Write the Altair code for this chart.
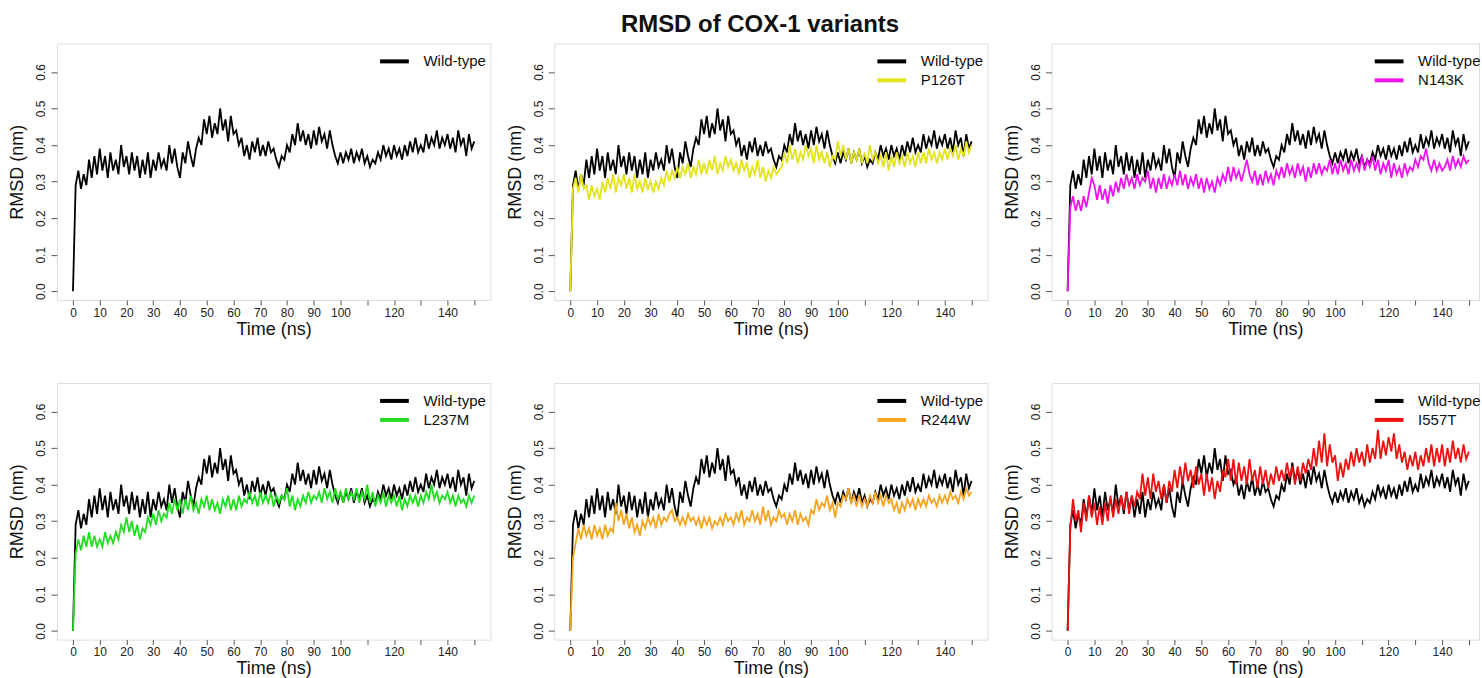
import altair as alt
import pandas as pd

TIME = list(range(151))

WILD_TYPE = [0.00,
    0.29, 0.33, 0.28, 0.32, 0.29, 0.36, 0.31, 0.37, 0.32, 0.39,
    0.33, 0.37, 0.31, 0.38, 0.33, 0.36, 0.32, 0.40, 0.34, 0.37,
    0.32, 0.38, 0.33, 0.37, 0.31, 0.36, 0.32, 0.38, 0.31, 0.36,
    0.33, 0.38, 0.34, 0.36, 0.33, 0.40, 0.35, 0.39, 0.34, 0.31,
    0.38, 0.35, 0.41, 0.37, 0.34, 0.39, 0.42, 0.40, 0.47, 0.43,
    0.48, 0.42, 0.46, 0.43, 0.50, 0.44, 0.47, 0.41, 0.48, 0.43,
    0.44, 0.40, 0.42, 0.37, 0.40, 0.36, 0.41, 0.38, 0.42, 0.37,
    0.40, 0.37, 0.41, 0.38, 0.39, 0.36, 0.34, 0.37, 0.36, 0.40,
    0.38, 0.43, 0.40, 0.46, 0.41, 0.44, 0.40, 0.43, 0.39, 0.44,
    0.40, 0.45, 0.41, 0.43, 0.39, 0.44, 0.40, 0.37, 0.35, 0.38,
    0.35, 0.38, 0.36, 0.39, 0.35, 0.38, 0.36, 0.39, 0.35, 0.37,
    0.34, 0.36, 0.35, 0.38, 0.36, 0.40, 0.37, 0.39, 0.36, 0.40,
    0.37, 0.39, 0.36, 0.40, 0.37, 0.41, 0.38, 0.42, 0.38, 0.40,
    0.38, 0.43, 0.39, 0.42, 0.40, 0.44, 0.39, 0.42, 0.40, 0.43,
    0.39, 0.42, 0.38, 0.44, 0.40, 0.42, 0.37, 0.43, 0.39, 0.41]

P126T = [0.00,
    0.28, 0.31, 0.27, 0.32, 0.28, 0.29, 0.25, 0.29, 0.26, 0.28,
    0.25, 0.30, 0.27, 0.31, 0.28, 0.32, 0.27, 0.31, 0.29, 0.32,
    0.28, 0.31, 0.27, 0.32, 0.28, 0.30, 0.27, 0.31, 0.28, 0.30,
    0.27, 0.30, 0.28, 0.31, 0.29, 0.33, 0.30, 0.33, 0.31, 0.34,
    0.31, 0.34, 0.32, 0.35, 0.31, 0.34, 0.32, 0.36, 0.32, 0.35,
    0.32, 0.36, 0.33, 0.37, 0.32, 0.35, 0.33, 0.37, 0.34, 0.36,
    0.33, 0.35, 0.32, 0.36, 0.33, 0.35, 0.31, 0.34, 0.32, 0.36,
    0.31, 0.34, 0.30, 0.33, 0.31, 0.34, 0.32, 0.33, 0.34, 0.38,
    0.35, 0.40, 0.36, 0.39, 0.35, 0.38, 0.36, 0.40, 0.37, 0.39,
    0.35, 0.40, 0.36, 0.38, 0.35, 0.38, 0.34, 0.37, 0.36, 0.41,
    0.37, 0.40, 0.36, 0.39, 0.35, 0.38, 0.36, 0.39, 0.35, 0.38,
    0.35, 0.40, 0.36, 0.38, 0.35, 0.37, 0.34, 0.38, 0.33, 0.37,
    0.34, 0.38, 0.35, 0.37, 0.34, 0.38, 0.35, 0.37, 0.34, 0.38,
    0.35, 0.38, 0.35, 0.39, 0.36, 0.38, 0.35, 0.38, 0.36, 0.39,
    0.36, 0.39, 0.37, 0.40, 0.36, 0.39, 0.37, 0.41, 0.38, 0.40]

N143K = [0.00,
    0.23, 0.26, 0.22, 0.25, 0.22, 0.26, 0.23, 0.27, 0.31, 0.29,
    0.25, 0.29, 0.25, 0.28, 0.24, 0.29, 0.26, 0.30, 0.27, 0.31,
    0.28, 0.32, 0.29, 0.31, 0.28, 0.32, 0.29, 0.31, 0.30, 0.33,
    0.28, 0.31, 0.27, 0.31, 0.28, 0.32, 0.28, 0.31, 0.29, 0.32,
    0.29, 0.33, 0.29, 0.32, 0.28, 0.31, 0.29, 0.32, 0.28, 0.31,
    0.27, 0.31, 0.28, 0.30, 0.27, 0.31, 0.29, 0.32, 0.30, 0.34,
    0.30, 0.34, 0.31, 0.33, 0.30, 0.33, 0.36, 0.32, 0.30, 0.33,
    0.29, 0.32, 0.29, 0.33, 0.30, 0.32, 0.29, 0.33, 0.31, 0.34,
    0.31, 0.35, 0.32, 0.34, 0.31, 0.35, 0.32, 0.34, 0.30, 0.34,
    0.31, 0.35, 0.32, 0.35, 0.32, 0.34, 0.33, 0.36, 0.32, 0.35,
    0.32, 0.36, 0.33, 0.35, 0.32, 0.36, 0.33, 0.35, 0.33, 0.37,
    0.33, 0.36, 0.34, 0.37, 0.33, 0.36, 0.32, 0.35, 0.33, 0.36,
    0.31, 0.35, 0.32, 0.34, 0.31, 0.35, 0.32, 0.34, 0.33, 0.36,
    0.34, 0.37, 0.36, 0.39, 0.35, 0.33, 0.36, 0.33, 0.35, 0.33,
    0.34, 0.36, 0.33, 0.37, 0.34, 0.36, 0.34, 0.37, 0.35, 0.36]

L237M = [0.00,
    0.21, 0.25, 0.22, 0.26, 0.23, 0.27, 0.23, 0.26, 0.23, 0.25,
    0.23, 0.27, 0.24, 0.26, 0.24, 0.27, 0.25, 0.29, 0.27, 0.31,
    0.27, 0.30, 0.26, 0.29, 0.25, 0.28, 0.27, 0.31, 0.29, 0.32,
    0.29, 0.33, 0.30, 0.32, 0.31, 0.35, 0.32, 0.36, 0.33, 0.36,
    0.32, 0.36, 0.33, 0.37, 0.33, 0.35, 0.32, 0.36, 0.34, 0.37,
    0.33, 0.36, 0.33, 0.35, 0.32, 0.36, 0.34, 0.37, 0.33, 0.36,
    0.33, 0.37, 0.34, 0.36, 0.35, 0.38, 0.35, 0.37, 0.34, 0.38,
    0.35, 0.37, 0.35, 0.38, 0.34, 0.37, 0.35, 0.37, 0.36, 0.39,
    0.34, 0.37, 0.33, 0.36, 0.34, 0.37, 0.35, 0.38, 0.35, 0.37,
    0.36, 0.38, 0.35, 0.39, 0.36, 0.38, 0.35, 0.39, 0.36, 0.38,
    0.35, 0.39, 0.36, 0.38, 0.36, 0.39, 0.35, 0.38, 0.36, 0.40,
    0.35, 0.38, 0.34, 0.37, 0.35, 0.38, 0.34, 0.37, 0.35, 0.37,
    0.34, 0.37, 0.33, 0.36, 0.34, 0.37, 0.35, 0.37, 0.34, 0.37,
    0.35, 0.38, 0.36, 0.40, 0.36, 0.38, 0.35, 0.37, 0.36, 0.38,
    0.35, 0.37, 0.34, 0.37, 0.35, 0.36, 0.34, 0.37, 0.35, 0.37]

R244W = [0.00,
    0.20, 0.24, 0.28, 0.25, 0.29, 0.26, 0.28, 0.25, 0.29, 0.26,
    0.28, 0.25, 0.29, 0.26, 0.28, 0.27, 0.35, 0.30, 0.33, 0.29,
    0.32, 0.28, 0.31, 0.27, 0.29, 0.26, 0.30, 0.28, 0.31, 0.29,
    0.31, 0.28, 0.32, 0.29, 0.31, 0.30, 0.32, 0.33, 0.30, 0.31,
    0.29, 0.31, 0.29, 0.32, 0.30, 0.31, 0.29, 0.31, 0.28, 0.31,
    0.29, 0.31, 0.28, 0.30, 0.29, 0.31, 0.29, 0.32, 0.30, 0.31,
    0.29, 0.32, 0.30, 0.33, 0.29, 0.31, 0.30, 0.33, 0.30, 0.32,
    0.29, 0.34, 0.30, 0.33, 0.29, 0.31, 0.30, 0.33, 0.31, 0.32,
    0.29, 0.32, 0.30, 0.33, 0.29, 0.32, 0.30, 0.31, 0.29, 0.33,
    0.32, 0.36, 0.33, 0.35, 0.34, 0.37, 0.33, 0.35, 0.31, 0.35,
    0.34, 0.37, 0.36, 0.39, 0.35, 0.37, 0.34, 0.37, 0.34, 0.36,
    0.34, 0.37, 0.35, 0.38, 0.35, 0.37, 0.34, 0.37, 0.35, 0.36,
    0.33, 0.35, 0.32, 0.35, 0.33, 0.36, 0.34, 0.36, 0.33, 0.36,
    0.34, 0.36, 0.34, 0.37, 0.35, 0.36, 0.34, 0.37, 0.35, 0.37,
    0.35, 0.38, 0.36, 0.37, 0.35, 0.38, 0.36, 0.39, 0.37, 0.38]

I557T = [0.00,
    0.28, 0.36, 0.30, 0.33, 0.27, 0.35, 0.30, 0.37, 0.31, 0.35,
    0.29, 0.34, 0.29, 0.35, 0.30, 0.37, 0.31, 0.36, 0.32, 0.37,
    0.33, 0.38, 0.32, 0.37, 0.34, 0.38, 0.36, 0.43, 0.37, 0.42,
    0.36, 0.43, 0.38, 0.41, 0.36, 0.40, 0.35, 0.41, 0.38, 0.44,
    0.39, 0.45, 0.40, 0.46, 0.41, 0.44, 0.39, 0.45, 0.40, 0.43,
    0.37, 0.43, 0.38, 0.42, 0.36, 0.41, 0.38, 0.44, 0.42, 0.47,
    0.41, 0.47, 0.40, 0.46, 0.41, 0.45, 0.40, 0.47, 0.41, 0.44,
    0.39, 0.45, 0.40, 0.44, 0.39, 0.43, 0.40, 0.45, 0.41, 0.44,
    0.41, 0.46, 0.42, 0.45, 0.40, 0.45, 0.41, 0.46, 0.43, 0.47,
    0.44, 0.50, 0.45, 0.52, 0.46, 0.54, 0.45, 0.51, 0.46, 0.48,
    0.41, 0.46, 0.42, 0.47, 0.44, 0.49, 0.45, 0.50, 0.46, 0.49,
    0.45, 0.51, 0.46, 0.50, 0.47, 0.55, 0.47, 0.52, 0.48, 0.53,
    0.49, 0.54, 0.47, 0.51, 0.46, 0.49, 0.44, 0.48, 0.45, 0.49,
    0.44, 0.48, 0.45, 0.50, 0.46, 0.51, 0.45, 0.50, 0.46, 0.51,
    0.45, 0.50, 0.46, 0.52, 0.47, 0.50, 0.46, 0.51, 0.47, 0.49]

VARIANTS = ["P126T", "N143K", "L237M", "R244W", "I557T"]
VARIANT_VALUES = [P126T, N143K, L237M, R244W, I557T]
VARIANT_COLORS = ["#e3e31c", "#ee14ee", "#22dd22", "#f5a520", "#ee1111"]

X_TICKS = list(range(0, 151, 10))
Y_TICKS = [0.0, 0.1, 0.2, 0.3, 0.4, 0.5, 0.6]

FONT = "Liberation Sans"
BOX = "#555555"


def frame(name, values):
    return pd.DataFrame({"time": TIME, "rmsd": values, "series": name})


def panel(variant, values, color, width, xmax):
    x = alt.X(
        "time:Q",
        scale=alt.Scale(domain=[-6, xmax], nice=False, zero=False),
        axis=alt.Axis(
            values=X_TICKS,
            title="Time (ns)",
            labelExpr="(datum.value == 110 || datum.value == 130 || datum.value == 150) ? '' : datum.label",
            grid=False, domain=False, tickSize=5, tickColor=BOX,
            labelFontSize=12, labelFont=FONT, labelColor="#222222",
            labelPadding=2, titleFontSize=18, titleFont=FONT,
            titleFontWeight="normal", titlePadding=2, titleColor="#111111",
        ),
    )
    y = alt.Y(
        "rmsd:Q",
        scale=alt.Scale(domain=[-0.024, 0.678], nice=False, zero=False),
        axis=alt.Axis(
            values=Y_TICKS, format=".1f", title="RMSD (nm)",
            grid=False, domain=False, tickSize=6, tickColor=BOX,
            labelAngle=270, labelAlign="center", labelBaseline="bottom",
            labelFontSize=12, labelFont=FONT, labelColor="#222222",
            labelPadding=3, titleFontSize=18, titleFont=FONT,
            titleFontWeight="normal", titlePadding=8, titleColor="#111111",
        ),
    )
    if variant is None:
        domain, rng = ["Wild-type"], ["#000000"]
    else:
        domain, rng = ["Wild-type", variant], ["#000000", color]
    col = alt.Color(
        "series:N",
        scale=alt.Scale(domain=domain, range=rng),
        legend=alt.Legend(
            title=None, orient="none", legendX=327, legendY=7, padding=0,
            symbolType="M-1.6,0H1.6", symbolSize=324, symbolStrokeWidth=4,
            labelFontSize=15, labelFont=FONT, labelColor="#111111",
            labelOffset=18, rowPadding=0, symbolOffset=0,
        ),
    )
    wt = alt.Chart(frame("Wild-type", WILD_TYPE)).mark_line(strokeWidth=1.8).encode(
        x=x, y=y, color=col
    )
    layers = [wt]
    if variant is not None:
        var = alt.Chart(frame(variant, values)).mark_line(strokeWidth=1.8).encode(
            x=x, y=y, color=col
        )
        layers.append(var)
    return alt.layer(*layers).properties(width=width, height=257)


panels = [
    panel(None, None, None, 434, 156),
    panel(VARIANTS[0], VARIANT_VALUES[0], VARIANT_COLORS[0], 434, 156),
    panel(VARIANTS[1], VARIANT_VALUES[1], VARIANT_COLORS[1], 428, 153.8),
    panel(VARIANTS[2], VARIANT_VALUES[2], VARIANT_COLORS[2], 434, 156),
    panel(VARIANTS[3], VARIANT_VALUES[3], VARIANT_COLORS[3], 434, 156),
    panel(VARIANTS[4], VARIANT_VALUES[4], VARIANT_COLORS[4], 428, 153.8),
]

chart = alt.concat(
    *panels, columns=3, spacing={"row": 83, "column": 64}, bounds="flush"
).resolve_scale(color="independent").properties(
    title=alt.TitleParams(
        "RMSD of COX-1 variants", anchor="middle", fontSize=24, font=FONT,
        fontWeight="bold", color="#111111", offset=6, dx=15,
    ),
    padding={"left": 8, "top": 12, "right": 0, "bottom": 0},
).configure_view(stroke=BOX, strokeWidth=1).configure(background="white")

chart.save("out.html", embed_options={"renderer": "svg", "actions": False})
